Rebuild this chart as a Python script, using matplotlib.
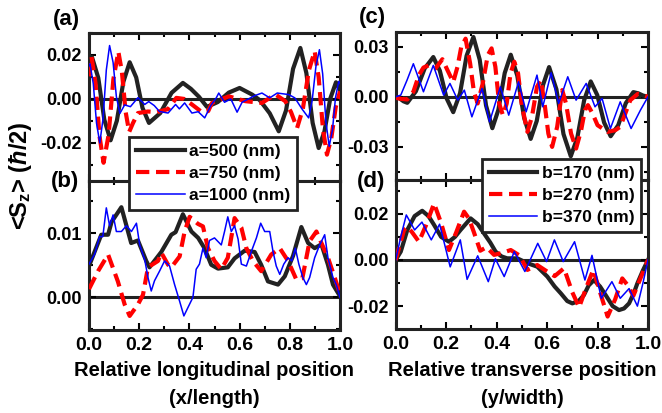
import matplotlib
matplotlib.use("Agg")
import matplotlib.pyplot as plt
from matplotlib.ticker import MultipleLocator, FuncFormatter
from matplotlib.lines import Line2D

plt.rcParams['font.family'] = ['Liberation Sans', 'DejaVu Sans']
plt.rcParams['font.weight'] = 'bold'
plt.rcParams['mathtext.fontset'] = 'custom'
plt.rcParams['mathtext.rm'] = 'Liberation Sans:bold'
plt.rcParams['mathtext.bf'] = 'Liberation Sans:bold'
plt.rcParams['mathtext.it'] = 'Liberation Sans:bold:italic'

# (a) longitudinal profile, Sz vs x/length
a500_x = [0, .012, .037, .061, .086, .111, .137, .162, .188, .213, .239, .284, .329, .374, .406, .438, .47, .513, .557,
          .60, .65, .68, .72, .756, .785, .813, .842, .866, .891, .915, .938, .961, .984, 1.0]
a500_y = [.0186, .019, .0096, -.0094, -.0188, -.0099, .0078, .0167, .0098, -.004, -.0109, -.0064, .0028, .0073, .0046,
          .0010, -.0036, -.0014, .0029, .005, .002, -.0005, -.0065, -.0147, -.0052, .0137, .0232, .0118, -.0109, -.0223,
          -.0148, .0001, .0076, .004]
a750_x = [0, .01, .026, .042, .058, .078, .097, .117, .131, .146, .16, .175, .195, .235, .27, .315, .348, .38, .41, .45,
          .475, .49, .557, .623, .689, .742, .782, .805, .829, .852, .876, .899, .915, .932, .948, .965, .983, 1.0]
a750_y = [.0103, .0192, .0072, -.017, -.029, -.0164, .0089, .0215, .0124, -.0059, -.015, -.011, -.0064, -.0057, -.006,
          -.0046, .0005, 0, -.0025, -.006, -.0055, -.0018, .0012, -.001, -.0018, .0021, -.001, -.006, -.0132, -.0045,
          .013, .0217, .0099, -.0136, -.0253, -.0181, -.0037, .0035]
a1000_x = [0, .004, .017, .030, .043, .056, .069, .082, .096, .109, .123, .142, .165, .195, .222, .238, .26, .281, .315,
           .345, .36, .381, .41, .435, .461, .485, .507, .517, .54, .565, .59, .61, .635, .66, .689, .72, .75, .796,
           .82, .849, .875, .889, .904, .918, .931, .944, .957, .970, .982, .995, 1.0]
a1000_y = [.0151, .016, .007, -.011, -.020, -.0089, .0132, .0243, .0166, .0011, -.0066, -.0027, -.0035, .0006, -.0025,
           -.0012, -.003, -.0057, -.0064, -.0025, -.0045, -.0018, -.0064, -.0058, -.0086, -.003, .0005, .0027, -.0015,
           0, -.006, -.0015, 0, .0015, .0027, .0005, .0027, .002, .0005, -.0046, -.0086, -.0008, .0147, .0224, .0114,
           -.0105, -.0215, -.0141, .0006, .008, .007]

# (b) longitudinal profile, second row
b_a500_x = [0, .029, .049, .076, .09, .129, .168, .195, .228, .241, .288, .328, .345, .374, .408, .435, .46, .487, .514,
            .553, .58, .62, .66, .686, .713, .753, .78, .813, .846, .873, .899, .926, .952, .972, .992, 1.0]
b_a500_y = [.0049, .0078, .0098, .0098, .0118, .0141, .0085, .0089, .0057, .0047, .0071, .0098, .0102, .013, .0103,
            .0093, .0077, .0051, .0045, .0047, .0061, .0073, .0071, .0051, .0025, .002, .0033, .0065, .011, .0085,
            .0077, .0083, .0051, .002, .0007, .0002]
b_a750_x = [0, .036, .076, .115, .142, .162, .195, .215, .235, .275, .288, .315, .328, .361, .381, .401, .434, .454,
            .474, .50, .527, .553, .58, .607, .627, .653, .686, .726, .76, .793, .826, .85, .879, .906, .926, .952,
            .979, 1.0]
b_a750_y = [.0013, .0041, .0067, .0025, -.0011, -.0029, -.0011, .0004, .0047, .0057, .007, .0051, .0047, .0064, .0103,
            .0126, .0115, .0111, .0077, .0057, .0044, .0062, .0124, .0109, .0077, .0057, .0041, .0067, .0077, .0057,
            .0028, .003, .0088, .0103, .0085, .0062, .0031, .0005]
b_a1000_x = [0, .023, .042, .055, .069, .082, .096, .109, .129, .149, .169, .189, .202, .222, .235, .248, .261, .281,
             .301, .321, .341, .361, .378, .394, .414, .427, .44, .454, .467, .48, .5, .527, .54, .553, .567, .58,
             .594, .607, .627, .647, .667, .684, .70, .72, .733, .746, .76, .776, .793, .808, .822, .836, .852, .866,
             .879, .899, .919, .939, .952, .972, .985, 1.0]
b_a1000_y = [.0052, .0068, .0095, .0095, .014, .0112, .0129, .0103, .0103, .0112, .0103, .0116, .0082, .0059, .0031,
             .001, .0026, .0041, .0057, .0049, .002, -.0006, -.0029, -.0016, 0, .0044, .0052, .0077, .0062, .0089,
             .0093, .0082, .0103, .0126, .0103, .0112, .0091, .0052, .0049, .0072, .0093, .0116, .0103, .0103, .0072,
             .0049, .0036, .0052, .0062, .0057, .0077, .0052, .0031, .002, .0031, .0062, .0082, .0098, .0062, .0031,
             .002, 0]

# (c) transverse profile, Sz vs y/width
b170_x = [0, .015, .031, .046, .080, .115, .149, .175, .202, .228, .255, .281, .308, .333, .358, .383, .407, .432, .456,
          .482, .509, .535, .559, .584, .608, .637, .665, .694, .720, .747, .773, .799, .826, .852, .882, .912, .942,
          .961, .981, 1.0]
b170_y = [0, -.0009, -.0027, -.0036, .0033, .017, .0238, .0156, -.001, -.0092, .0021, .0246, .0358, .0222, -.0052,
          -.0188, -.0078, .0142, .0252, .0126, -.0126, -.0252, -.0145, .0071, .0178, .0045, -.0223, -.0356, -.0244,
          -.002, .0092, .001, -.0154, -.0236, -.017, -.0038, .0028, .0021, .0007, 0]
b270_x = [0, .02, .046, .07, .092, .11, .13, .158, .185, .205, .228, .245, .26, .277, .295, .31, .325, .345, .365, .38,
          .395, .41, .425, .44, .455, .47, .485, .50, .522, .54, .56, .575, .59, .605, .62, .64, .66, .675, .695, .715,
          .735, .75, .762, .78, .80, .84, .87, .89, .91, .93, .96, .98, 1.0]
b270_y = [-.0006, -.0012, -.0016, .003, .013, .0175, .0188, .017, .0225, .016, .0088, .018, .03, .0348, .02, .003,
          -.004, .008, .025, .029, .018, -.004, -.011, -.004, .014, .021, .014, -.005, -.021, -.012, .006, .01, -.004,
          -.022, -.03, -.018, .004, -.004, -.022, -.031, -.02, -.008, -.005, -.01, -.017, -.021, -.02, -.018, -.01,
          -.002, .0018, .001, 0]
b370_x = [0, .02, .045, .07, .11, .149, .19, .215, .246, .272, .302, .342, .372, .415, .448, .487, .517, .56, .583,
          .616, .646, .682, .715, .755, .79, .818, .851, .89, .933, .97, 1.0]
b370_y = [0, .001, .01, .0198, .003, .0188, .001, .008, -.002, .004, -.012, .005, -.015, .006, -.011, .009, -.009,
          .013, -.006, .0144, -.004, .012, -.002, .008, -.006, -.001, -.019, -.003, -.019, -.008, 0]

# (d) transverse profile, second row
d_b170_x = [0, .02, .046, .075, .105, .13, .152, .18, .211, .235, .257, .297, .325, .35, .375, .396, .42, .442, .482,
            .522, .561, .601, .63, .654, .68, .70, .725, .746, .765, .786, .81, .832, .86, .885, .905, .925, .945,
            .958, .98, 1.0]
d_b170_y = [0, .0036, .013, .019, .0213, .019, .0152, .01, .0079, .01, .013, .018, .0155, .0115, .0075, .0036, .0015,
            .0007, .0007, -.0014, -.0029, -.0072, -.0115, -.0144, -.0178, -.0188, -.0178, -.0152, -.011, -.0087,
            -.0115, -.0152, -.02, -.0217, -.021, -.0188, -.014, -.0101, -.0045, 0]
d_b270_x = [0, .015, .033, .046, .065, .092, .12, .152, .18, .211, .24, .271, .29, .31, .335, .36, .39, .42, .456,
            .49, .522, .561, .60, .63, .667, .70, .727, .755, .783, .81, .84, .87, .898, .92, .942, .97, 1.0]
d_b270_y = [0, .006, .013, .0144, .012, .0079, .015, .0245, .016, .0043, .012, .0209, .018, .012, .004, .0055, .0022,
            .003, .0043, .002, -.0043, -.0022, -.005, -.007, -.0036, -.014, -.0205, -.012, -.0043, -.014, -.0245,
            -.017, -.008, -.011, -.0155, -.008, 0]
d_b370_x = [0, .02, .042, .075, .104, .141, .174, .216, .256, .283, .325, .367, .395, .43, .47, .512, .563, .598,
            .629, .664, .709, .75, .778, .815, .857, .89, .925, .958, .98, 1.0]
d_b370_y = [0, .01, .0195, .013, .0164, .0087, .0155, -.003, .0087, -.0084, .0018, -.0094, .0005, -.0072, .0036,
            -.005, .0072, -.0007, .0087, -.0007, .0079, -.0087, .002, -.0166, -.0094, -.0166, -.0124, -.02, -.01, 0]

W, H = 662, 413
fig = plt.figure(figsize=(W / 100, H / 100), dpi=100)

def px_axes(x0, y0, x1, y1):
    return fig.add_axes([x0 / W, 1 - y1 / H, (x1 - x0) / W, (y1 - y0) / H])

ax_a = px_axes(89, 33, 340, 181)
ax_b = px_axes(89, 181, 340, 330)
ax_c = px_axes(395.7, 32, 648, 180.3)
ax_d = px_axes(395.7, 180.3, 648, 329)

dash = (0, (3.2, 1.6))

def draw(ax, series, ylim, major, bottom):
    ax.axhline(0, color='#222222', lw=2.2, zorder=1.5)
    (x1, y1), (x2, y2), (x3, y3) = series
    ax.plot(x1, y1, color='#222222', lw=3, zorder=2)
    ax.plot(x2, y2, color='red', lw=3, ls=dash, zorder=3)
    ax.plot(x3, y3, color='blue', lw=1.1, zorder=4)
    ax.set_xlim(0, 1)
    ax.set_ylim(*ylim)
    ax.xaxis.set_major_locator(MultipleLocator(0.2))
    ax.xaxis.set_minor_locator(MultipleLocator(0.1))
    ax.yaxis.set_major_locator(MultipleLocator(major))
    ax.yaxis.set_minor_locator(MultipleLocator(major / 2))
    ax.tick_params(which='both', direction='in', top=True, right=True, width=1.5, pad=5)
    ax.tick_params(axis='y', labelsize=13)
    ax.tick_params(axis='x', labelsize=14)
    ax.tick_params(which='major', length=5)
    ax.tick_params(which='minor', length=3)
    for s in ax.spines.values():
        s.set_linewidth(2.2)
        s.set_color('#222222')
    if bottom:
        ax.xaxis.set_major_formatter(FuncFormatter(lambda v, p: '%.1f' % v))
    else:
        ax.tick_params(labelbottom=False)
    ax.yaxis.set_major_formatter(FuncFormatter(lambda v, p: ('%.2f' % v).replace('-0.00', '0.00')))

draw(ax_a, [(a500_x, a500_y), (a750_x, a750_y), (a1000_x, a1000_y)], (-0.0373, 0.03), 0.02, False)
draw(ax_b, [(b_a500_x, b_a500_y), (b_a750_x, b_a750_y), (b_a1000_x, b_a1000_y)], (-0.0051, 0.0182), 0.01, True)
draw(ax_c, [(b170_x, b170_y), (b270_x, b270_y), (b370_x, b370_y)], (-0.05, 0.0388), 0.03, False)
draw(ax_d, [(d_b170_x, d_b170_y), (d_b270_x, d_b270_y), (d_b370_x, d_b370_y)], (-0.0299, 0.0345), 0.02, True)

def legend(labels, anchor):
    handles = [Line2D([], [], color='#222222', lw=3),
               Line2D([], [], color='red', lw=3, ls=dash),
               Line2D([], [], color='blue', lw=1.1)]
    lg = fig.legend(handles, labels, loc='upper left', bbox_to_anchor=(anchor[0] / W, 1 - anchor[1] / H),
                    borderaxespad=0, fancybox=False, framealpha=1, edgecolor='#222222', fontsize=12.5,
                    handlelength=2.8, handletextpad=0.25, labelspacing=0.4, borderpad=0.4)
    lg.get_frame().set_linewidth(2)
    lg.set_zorder(10)

legend(['a=500 (nm)', 'a=750 (nm)', 'a=1000 (nm)'], (129, 137))
legend(['b=170 (nm)', 'b=270 (nm)', 'b=370 (nm)'], (481.7, 159))

for lbl, x, y in [('(a)', 66, 20), ('(b)', 65, 181), ('(c)', 372, 17), ('(d)', 371, 181)]:
    fig.text(x / W, 1 - y / H, lbl, fontsize=16, fontweight='bold', ha='center', va='center')

fig.text(20 / W, 1 - 176 / H, r'<S$_{\mathbf{z}}$> ($\mathit{ħ}$/2)', rotation=90, fontsize=17,
         fontweight='bold', ha='center', va='center')

fig.text(214.5 / W, 1 - 371 / H, 'Relative longitudinal position', fontsize=14.5, ha='center', va='center')
fig.text(214.5 / W, 1 - 399 / H, '(x/length)', fontsize=14.5, ha='center', va='center')
fig.text(522 / W, 1 - 371 / H, 'Relative transverse position', fontsize=14.5, ha='center', va='center')
fig.text(522 / W, 1 - 399 / H, '(y/width)', fontsize=14.5, ha='center', va='center')

fig.savefig('out.png', dpi=100)
